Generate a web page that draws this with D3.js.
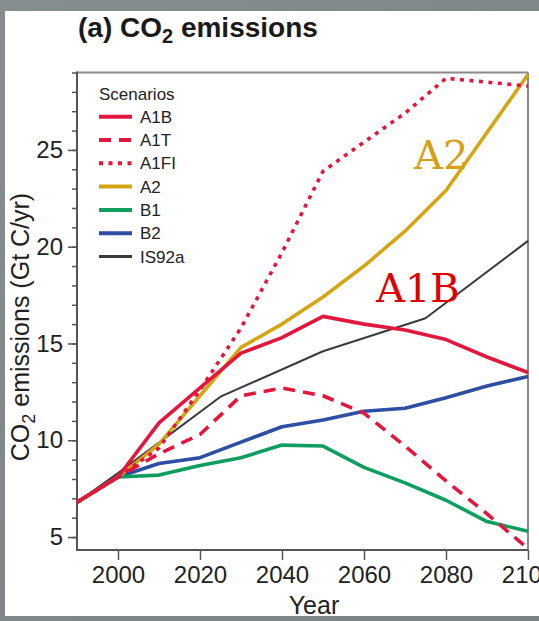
<!DOCTYPE html>
<html>
<head>
<meta charset="utf-8">
<script src="https://cdn.jsdelivr.net/npm/d3@7"></script>
<style>
  html, body { margin: 0; padding: 0; background: #7f8789; }
  svg { display: block; }
  text { font-family: "Liberation Sans", Arial, Helvetica, sans-serif; }
  text.callout { font-family: "DejaVu Serif", "Liberation Serif", serif; }
</style>
</head>
<body>
<svg id="chart" width="539" height="621"></svg>
<script>
// Years sampled by the SRES scenarios
const years = [1990, 2000, 2010, 2020, 2030, 2040, 2050, 2060, 2070, 2080, 2090, 2100];
// CO2 emissions, Gt C per year
const a1b  = [6.8, 8.1, 10.9, 12.7, 14.5, 15.3, 16.4, 16.0, 15.7, 15.2, 14.3, 13.5];
const a1t  = [6.8, 8.1, 9.3, 10.3, 12.3, 12.7, 12.3, 11.4, 9.7, 7.9, 6.2, 4.4];
const a1fi = [6.8, 8.1, 9.6, 12.6, 15.8, 19.7, 23.9, 25.4, 26.9, 28.7, 28.5, 28.3];
const a2   = [6.8, 8.1, 9.8, 12.3, 14.8, 16.0, 17.4, 19.0, 20.8, 22.9, 25.9, 28.9];
const b1   = [6.8, 8.1, 8.2, 8.7, 9.1, 9.75, 9.7, 8.6, 7.8, 6.9, 5.8, 5.3];
const b2   = [6.8, 8.1, 8.8, 9.1, 9.9, 10.7, 11.05, 11.5, 11.65, 12.2, 12.8, 13.3];
// IS92a is given at 25-year steps
const is92aYears = [1990, 2000, 2025, 2050, 2075, 2100];
const is92a      = [6.8, 8.3, 12.25, 14.6, 16.3, 20.3];

const scenarioNames = ["A1B", "A1T", "A1FI", "A2", "B1", "B2", "IS92a"];
const xTicks = [2000, 2020, 2040, 2060, 2080, 2100];
const yMajorTicks = [5, 10, 15, 20, 25];
const yMinorTicks = d3.range(5, 30, 1);

const series = [
  { name: "A1B",   x: years,      v: a1b,   color: "#e3173d", width: 3.6, dash: null },
  { name: "A1T",   x: years,      v: a1t,   color: "#e3173d", width: 3.6, dash: "12,8" },
  { name: "A1FI",  x: years,      v: a1fi,  color: "#e3173d", width: 3.6, dash: "4,5.5" },
  { name: "A2",    x: years,      v: a2,    color: "#d5a514", width: 3.6, dash: null },
  { name: "B1",    x: years,      v: b1,    color: "#0e9f5e", width: 3.6, dash: null },
  { name: "B2",    x: years,      v: b2,    color: "#2d4fa3", width: 3.6, dash: null },
  { name: "IS92a", x: is92aYears, v: is92a, color: "#3a3a3a", width: 2.0, dash: null }
];

const svg = d3.select("#chart");

// Slide backdrop and white panel
const defs = svg.append("defs");
const grad = defs.append("linearGradient").attr("id", "bg").attr("x1", 0).attr("y1", 0).attr("x2", 1).attr("y2", 1);
grad.append("stop").attr("offset", "0%").attr("stop-color", "#858d8f");
grad.append("stop").attr("offset", "100%").attr("stop-color", "#7a8284");
svg.append("rect").attr("width", 539).attr("height", 621).attr("fill", "url(#bg)");
svg.append("rect").attr("x", 5).attr("y", 11).attr("width", 534).attr("height", 605).attr("fill", "#ffffff");

const plotLeft = 77, plotRight = 528, plotTop = 72.5, plotBottom = 550;
const x = d3.scaleLinear().domain([1990, 2100]).range([plotLeft, plotRight]);
const y = d3.scaleLinear().domain([4.33, 29]).range([plotBottom, plotTop]);

// Title
const title = svg.append("text").attr("x", 78).attr("y", 37)
  .attr("font-size", 28).attr("font-weight", "bold").attr("fill", "#1a1a1a");
title.append("tspan").text("(a) CO");
title.append("tspan").attr("font-size", 20).attr("dy", 6).text("2");
title.append("tspan").attr("dy", -6).text(" emissions");

// Frame (top and right)
svg.append("line").attr("x1", plotLeft).attr("x2", plotRight).attr("y1", plotTop).attr("y2", plotTop)
  .attr("stroke", "#8a8a8a").attr("stroke-width", 2);
svg.append("line").attr("x1", plotRight).attr("x2", plotRight).attr("y1", plotTop).attr("y2", plotBottom)
  .attr("stroke", "#8a8a8a").attr("stroke-width", 2);

// Y axis: minor ticks, then major ticks with labels
const yMinor = svg.append("g").attr("transform", `translate(${plotLeft},0)`)
  .call(d3.axisLeft(y).tickValues(yMinorTicks).tickSize(5).tickFormat(""));
const yMajor = svg.append("g").attr("transform", `translate(${plotLeft},0)`)
  .call(d3.axisLeft(y).tickValues(yMajorTicks).tickSize(9).tickPadding(5));
[yMinor, yMajor].forEach(g => {
  g.select(".domain").remove();
  g.selectAll(".tick line").attr("stroke", "#555").attr("stroke-width", 1.5);
});
yMajor.selectAll(".tick text").attr("font-size", 24).attr("fill", "#222");
svg.append("line").attr("x1", plotLeft).attr("x2", plotLeft).attr("y1", plotTop - 1).attr("y2", plotBottom + 1)
  .attr("stroke", "#555").attr("stroke-width", 2);

// X axis
const xAxis = svg.append("g").attr("transform", `translate(0,${plotBottom})`)
  .call(d3.axisBottom(x).tickValues(xTicks).tickSize(10).tickPadding(6).tickFormat(d3.format("d")));
xAxis.select(".domain").remove();
xAxis.selectAll(".tick line").attr("stroke", "#555").attr("stroke-width", 1.5);
xAxis.selectAll(".tick text").attr("font-size", 24).attr("fill", "#222");
svg.append("line").attr("x1", plotLeft).attr("x2", plotRight).attr("y1", plotBottom).attr("y2", plotBottom)
  .attr("stroke", "#555").attr("stroke-width", 2);

// Axis titles
svg.append("text").attr("x", 314).attr("y", 614).attr("text-anchor", "middle")
  .attr("font-size", 25).attr("fill", "#222").text("Year");
const yTitle = svg.append("text").attr("transform", "translate(29,327) rotate(-90)")
  .attr("text-anchor", "middle").attr("font-size", 25).attr("fill", "#222");
yTitle.append("tspan").text("CO");
yTitle.append("tspan").attr("font-size", 18).attr("dy", 6).text("2");
yTitle.append("tspan").attr("dy", -6).text(" emissions (Gt C/yr)");

// Scenario lines
const line = d3.line().x(d => x(d[0])).y(d => y(d[1]));
const plot = svg.append("g");
series.slice().reverse().forEach(s => {
  plot.append("path")
    .datum(s.x.map((yr, i) => [yr, s.v[i]]))
    .attr("d", line)
    .attr("fill", "none")
    .attr("stroke", s.color)
    .attr("stroke-width", s.width)
    .attr("stroke-dasharray", s.dash)
    .attr("stroke-linejoin", "round");
});

// Legend
const legend = svg.append("g");
legend.append("text").attr("x", 99).attr("y", 100).attr("font-size", 17).attr("fill", "#222").text("Scenarios");
series.forEach((s, i) => {
  const ly = 116.7 + i * 23.3;
  legend.append("line").attr("x1", 99).attr("x2", 132).attr("y1", ly).attr("y2", ly)
    .attr("stroke", s.color).attr("stroke-width", s.name === "IS92a" ? 3.2 : 4)
    .attr("stroke-dasharray", s.dash);
  legend.append("text").attr("x", 140).attr("y", ly + 6).attr("font-size", 17)
    .attr("fill", "#222").text(scenarioNames[i]);
});

// Scenario call-outs
svg.append("text").attr("class", "callout").attr("x", 414).attr("y", 169)
  .attr("font-size", 40).attr("fill", "#d4a017").text("A2");
svg.append("text").attr("class", "callout").attr("x", 376).attr("y", 302)
  .attr("font-size", 40).attr("fill", "#e00000").text("A1B");
</script>
</body>
</html>
